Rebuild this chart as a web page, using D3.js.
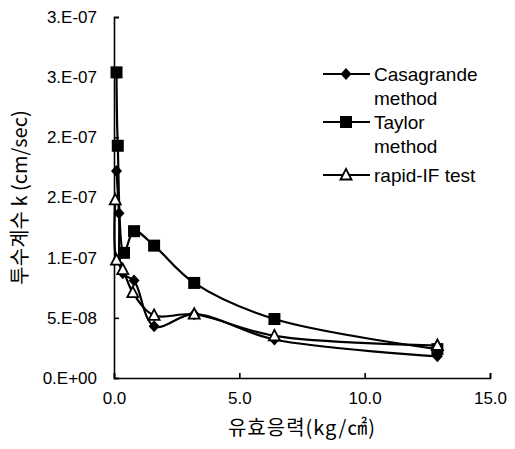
<!DOCTYPE html>
<html>
<head>
<meta charset="utf-8">
<script src="https://cdn.jsdelivr.net/npm/d3@7"></script>
<style>
  body { margin: 0; background: #fff; }
  svg { font-family: "Liberation Sans", Arial, "Noto Sans CJK KR", sans-serif; }
</style>
</head>
<body>
<div id="app"></div>
<script>
// effective stress (kg/cm2) and permeability k (cm/sec)
const casaX = [0.1, 0.2, 0.35, 0.8, 1.6, 3.2, 6.4, 12.9];
const casaY = [1.72e-7, 1.37e-7, 8.7e-8, 8.1e-8, 4.3e-8, 5.3e-8, 3.2e-8, 1.8e-8];
const taylorX = [0.1, 0.15, 0.4, 0.8, 1.6, 3.2, 6.4, 12.9];
const taylorY = [2.54e-7, 1.93e-7, 1.04e-7, 1.22e-7, 1.1e-7, 7.9e-8, 4.9e-8, 2.4e-8];
const rapidX = [0.05, 0.1, 0.35, 0.75, 1.6, 3.2, 6.4, 12.9];
const rapidY = [1.48e-7, 9.8e-8, 9.0e-8, 7.1e-8, 5.2e-8, 5.3e-8, 3.5e-8, 2.7e-8];

const yTicks = [0, 5e-8, 1e-7, 1.5e-7, 2e-7, 2.5e-7, 3e-7];
const yTickLabels = ["0.E+00", "5.E-08", "1.E-07", "2.E-07", "2.E-07", "3.E-07", "3.E-07"];
const xTicks = [0, 5, 10, 15];
const xTickLabels = ["0.0", "5.0", "10.0", "15.0"];

const seriesNames = [["Casagrande", "method"], ["Taylor", "method"], ["rapid-IF test"]];

const W = 515, H = 449;
const plotL = 114, plotR = 490, plotT = 17, plotB = 378;

const svg = d3.select("#app").append("svg").attr("width", W).attr("height", H);

const x = d3.scaleLinear().domain([0, 15]).range([plotL, plotR]);
const y = d3.scaleLinear().domain([0, 3e-7]).range([plotB, plotT]);

// axes, ticks point inward
const yAxis = d3.axisLeft(y).tickValues(yTicks)
  .tickFormat((d, i) => yTickLabels[i])
  .tickSizeInner(-5).tickSizeOuter(-5).tickPadding(17);
const xAxis = d3.axisBottom(x).tickValues(xTicks)
  .tickFormat((d, i) => xTickLabels[i])
  .tickSizeInner(-5).tickSizeOuter(-5).tickPadding(14);

const gy = svg.append("g").attr("transform", `translate(${plotL},0)`).call(yAxis);
const gx = svg.append("g").attr("transform", `translate(0,${plotB})`).call(xAxis);
[gx, gy].forEach(g => {
  g.selectAll("path, line").attr("stroke", "#000").attr("stroke-width", 1.6);
  g.selectAll("text").attr("fill", "#000").style("font-size", "17px");
});

// axis titles
svg.append("text")
  .attr("transform", `translate(27,${(plotT + plotB) / 2}) rotate(-90)`)
  .attr("text-anchor", "middle")
  .style("font-size", "20px")
  .style("font-family", "'Noto Sans CJK KR', sans-serif")
  .text("투수계수 k (cm/sec)");
svg.append("text")
  .attr("x", (plotL + plotR) / 2).attr("y", 435)
  .attr("text-anchor", "middle")
  .style("font-size", "20px")
  .style("letter-spacing", "1px")
  .style("font-family", "'Noto Sans CJK KR', sans-serif")
  .text("유효응력(kg/㎠)");

const line = d3.line()
  .x(d => x(d[0])).y(d => y(d[1]))
  .curve(d3.curveCatmullRom.alpha(0.5));

const series = [
  { xs: casaX, ys: casaY, shape: "diamond" },
  { xs: taylorX, ys: taylorY, shape: "square" },
  { xs: rapidX, ys: rapidY, shape: "triangle" }
];

function marker(g, shape, cx, cy) {
  if (shape === "square") {
    g.append("rect").attr("x", cx - 6).attr("y", cy - 6)
      .attr("width", 12).attr("height", 12).attr("fill", "#000");
  } else if (shape === "diamond") {
    g.append("path").attr("d", `M${cx},${cy - 6}L${cx + 5.5},${cy}L${cx},${cy + 6}L${cx - 5.5},${cy}Z`)
      .attr("fill", "#000");
  } else {
    g.append("path").attr("d", `M${cx},${cy - 6}L${cx + 5.5},${cy + 4.5}L${cx - 5.5},${cy + 4.5}Z`)
      .attr("fill", "#fff").attr("stroke", "#000").attr("stroke-width", 1.8);
  }
}

series.forEach(s => {
  const pts = s.xs.map((v, i) => [v, s.ys[i]]);
  svg.append("path").datum(pts).attr("d", line)
    .attr("fill", "none").attr("stroke", "#000").attr("stroke-width", 2.2);
});
series.forEach(s => {
  const g = svg.append("g");
  s.xs.forEach((v, i) => marker(g, s.shape, x(v), y(s.ys[i])));
});

// legend
const legendRows = [74, 122, 175];
const leg = svg.append("g");
series.forEach((s, i) => {
  const ly = legendRows[i];
  leg.append("line").attr("x1", 323).attr("x2", 370).attr("y1", ly).attr("y2", ly)
    .attr("stroke", "#000").attr("stroke-width", 2);
  marker(leg, s.shape, 346, ly);
  seriesNames[i].forEach((t, j) => {
    leg.append("text").attr("x", 374).attr("y", ly + 7 + j * 24)
      .style("font-size", "19px").attr("fill", "#000").text(t);
  });
});
</script>
</body>
</html>
